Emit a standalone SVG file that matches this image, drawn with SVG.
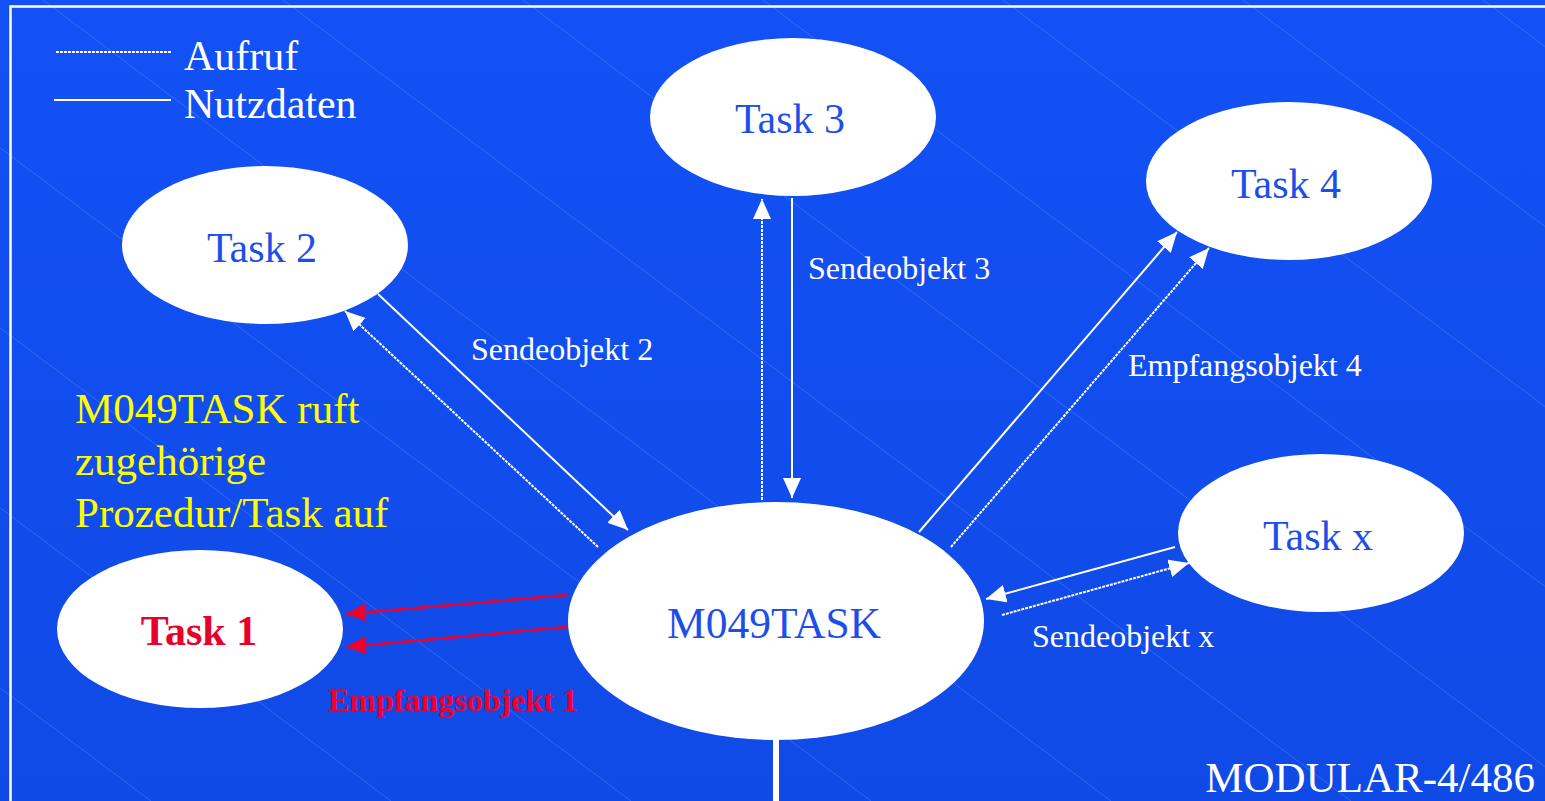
<svg xmlns="http://www.w3.org/2000/svg" width="1545" height="801" viewBox="0 0 1545 801">
<defs>
<linearGradient id="bg" x1="0" y1="0" x2="0" y2="1">
<stop offset="0" stop-color="#1351F6"/>
<stop offset="1" stop-color="#104AE6"/>
</linearGradient>
<marker id="aw" markerUnits="userSpaceOnUse" markerWidth="22" markerHeight="20" refX="20" refY="9" orient="auto"><path d="M0,0 L20,9 L0,18 z" fill="#fff"/></marker>
<marker id="ar" markerUnits="userSpaceOnUse" markerWidth="22" markerHeight="20" refX="20" refY="9" orient="auto"><path d="M0,0 L20,9 L0,18 z" fill="#F0002C"/></marker>
<style>
.node{fill:#fff}
.tl{font-family:"Liberation Serif",serif;font-size:42px;fill:#1C4FEA;text-anchor:middle}
.lbl{font-family:"Liberation Serif",serif;font-size:32px;fill:#fff}
.leg{font-family:"Liberation Serif",serif;font-size:42px;fill:#fff}
.yel{font-family:"Liberation Serif",serif;font-size:43px;fill:#FFFF00}
.sol{stroke:#fff;stroke-width:2;fill:none}
.dash{stroke:#fff;stroke-width:2;stroke-dasharray:3 1;fill:none}
.red{stroke:#F0002C;stroke-width:2.5;fill:none}
.tex{stroke:#8FAAF8;stroke-width:1;opacity:0.3}
</style>
</defs>
<rect width="1545" height="801" fill="url(#bg)"/>
<g id="texture">
<line class="tex" x1="-917" y1="0" x2="151" y2="801"/>
<line class="tex" x1="-677" y1="0" x2="391" y2="801"/>
<line class="tex" x1="-437" y1="0" x2="631" y2="801"/>
<line class="tex" x1="-197" y1="0" x2="871" y2="801"/>
<line class="tex" x1="43" y1="0" x2="1111" y2="801"/>
<line class="tex" x1="283" y1="0" x2="1351" y2="801"/>
<line class="tex" x1="523" y1="0" x2="1591" y2="801"/>
<line class="tex" x1="763" y1="0" x2="1831" y2="801"/>
<line class="tex" x1="1003" y1="0" x2="2071" y2="801"/>
<line class="tex" x1="1243" y1="0" x2="2311" y2="801"/>
<line class="tex" x1="1483" y1="0" x2="2551" y2="801"/>
</g>
<rect x="10.5" y="6.5" width="1600" height="900" fill="none" stroke="#fff" stroke-width="2.5"/>
<g id="legend">
<line class="dash" x1="56" y1="52" x2="171" y2="52" stroke-width="1.5"/>
<text class="leg" x="184" y="70">Aufruf</text>
<line class="sol" x1="54" y1="100" x2="171" y2="100"/>
<text class="leg" x="184" y="118">Nutzdaten</text>
</g>
<g id="note">
<text class="yel" x="75" y="423">M049TASK ruft</text>
<text class="yel" x="75" y="475">zugehörige</text>
<text class="yel" x="75" y="527">Prozedur/Task auf</text>
</g>
<line x1="776" y1="735" x2="776" y2="801" stroke="#fff" stroke-width="6"/>
<g id="connectors">
<line class="sol" x1="378" y1="294" x2="628" y2="530" marker-end="url(#aw)"/>
<line class="dash" x1="598" y1="547" x2="345" y2="311" marker-end="url(#aw)"/>
<line class="dash" x1="762" y1="500" x2="762" y2="199" marker-end="url(#aw)"/>
<line class="sol" x1="792" y1="198" x2="792" y2="498" marker-end="url(#aw)"/>
<line class="sol" x1="919" y1="532" x2="1177" y2="232" marker-end="url(#aw)"/>
<line class="dash" x1="951" y1="547" x2="1209" y2="248" marker-end="url(#aw)"/>
<line class="sol" x1="1175" y1="547" x2="986" y2="599" marker-end="url(#aw)"/>
<line class="dash" x1="1002" y1="615" x2="1189" y2="563" marker-end="url(#aw)"/>
<line class="red" x1="567" y1="595" x2="346" y2="614" marker-end="url(#ar)"/>
<line class="red" x1="567" y1="627" x2="346" y2="647" marker-end="url(#ar)"/>
<text class="lbl" x="471" y="360">Sendeobjekt 2</text>
<text class="lbl" x="808" y="279">Sendeobjekt 3</text>
<text class="lbl" x="1128" y="376">Empfangsobjekt 4</text>
<text class="lbl" x="1032" y="647">Sendeobjekt x</text>
<text class="lbl" x="328" y="711" style="font-weight:bold;fill:#F0002C">Empfangsobjekt 1</text>
</g>
<g id="task3"><ellipse class="node" cx="793" cy="117" rx="143" ry="79"/><text class="tl" x="790" y="133">Task 3</text></g>
<g id="task2"><ellipse class="node" cx="265" cy="245" rx="143" ry="79"/><text class="tl" x="262" y="262">Task 2</text></g>
<g id="task4"><ellipse class="node" cx="1289" cy="181" rx="143" ry="79"/><text class="tl" x="1286" y="198">Task 4</text></g>
<g id="taskx"><ellipse class="node" cx="1321" cy="533" rx="143" ry="79"/><text class="tl" x="1318" y="550">Task x</text></g>
<g id="task1"><ellipse class="node" cx="200" cy="629" rx="143" ry="79"/><text class="tl" x="199" y="645" style="font-weight:bold;fill:#E8002A">Task 1</text></g>
<g id="m049task"><ellipse class="node" cx="776" cy="621" rx="208" ry="119"/><text class="tl" x="774" y="638" style="font-size:43.5px">M049TASK</text></g>
<text x="1535" y="792" style="font-family:'Liberation Serif',serif;font-size:43px;fill:#fff;text-anchor:end">MODULAR-4/486</text>
</svg>
